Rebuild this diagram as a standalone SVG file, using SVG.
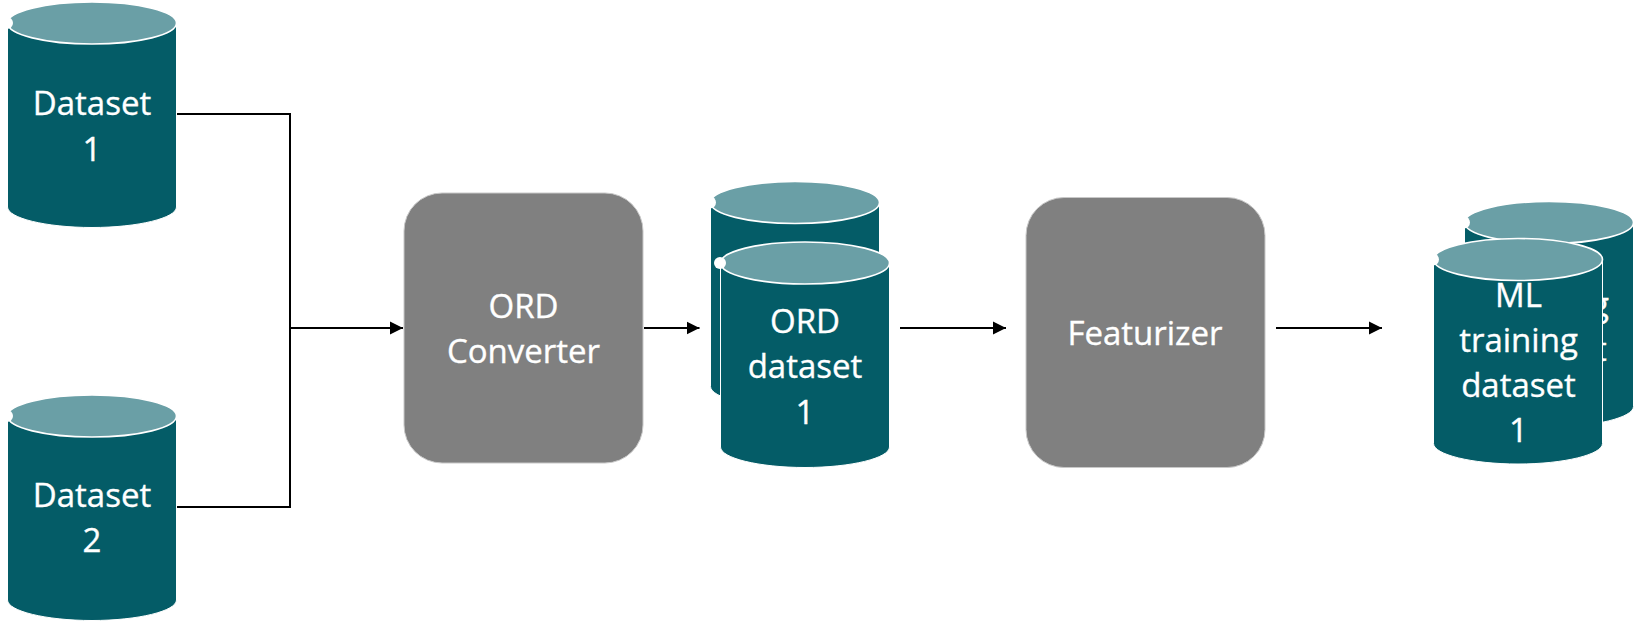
<svg xmlns="http://www.w3.org/2000/svg" width="1641" height="622" viewBox="0 0 1641 622">
<style>
.body{fill:#045c67;stroke:#fff;stroke-width:1}
.top{fill:#6a9fa6;stroke:#fff;stroke-width:1.6}
.dot{fill:#fff}
.box{fill:#808080;stroke:#c8c8c8;stroke-width:1}
text{font-family:"Open Sans","Noto Sans",sans-serif;font-size:33px;fill:#fff;stroke:#fff;stroke-width:.35;text-anchor:middle}
.wire{fill:none;stroke:#000;stroke-width:2}
</style>
<defs>
<marker id="arrow" markerUnits="userSpaceOnUse" markerWidth="14" markerHeight="14" refX="13" refY="7" orient="auto"><path d="M0 0.5L13 7L0 13.5Z" fill="#000"/></marker>
<g id="cyl">
<path class="body" d="M-.5 0V184C-.5 195 37.6 204.500 84 204.500S168.500 195 168.500 184V0Z"/>
<ellipse class="top" cx="84" cy="0" rx="84.500" ry="21"/>
<circle class="dot" cx="-1" cy="0" r="6"/>
</g>
</defs>
<rect width="1641" height="622" fill="#fff"/>
<g id="connectors">
<path class="wire" d="M176 114H290V507H176"/>
<path class="wire" d="M290 328H403" marker-end="url(#arrow)"/>
<path class="wire" d="M644 328H699.500" marker-end="url(#arrow)"/>
<path class="wire" d="M900 328H1006" marker-end="url(#arrow)"/>
<path class="wire" d="M1276 328H1382" marker-end="url(#arrow)"/>
</g>
<g id="dataset-1"><use href="#cyl" x="8" y="23"/><text x="92" y="115">Dataset</text><text x="92" y="161">1</text></g>
<g id="dataset-2"><use href="#cyl" x="8" y="416"/><text x="92" y="507">Dataset</text><text x="92" y="552">2</text></g>
<g id="ord-converter"><rect class="box" x="404" y="193" width="239" height="270" rx="38"/><text x="523.500" y="318">ORD</text><text x="523.500" y="363">Converter</text></g>
<g id="ord-dataset-back"><use href="#cyl" x="711" y="202.500"/></g>
<g id="ord-dataset-1"><use href="#cyl" x="721" y="263"/><text x="805" y="333">ORD</text><text x="805" y="378">dataset</text><text x="805" y="424">1</text></g>
<g id="featurizer"><rect class="box" x="1026" y="197.500" width="239" height="270" rx="38"/><text x="1145" y="345">Featurizer</text></g>
<g id="ml-dataset-back"><use href="#cyl" x="1465" y="222.500"/><text x="1549.500" y="316">training</text><text x="1549.500" y="361">dataset</text></g>
<g id="ml-dataset-1"><use href="#cyl" x="1434" y="259.500"/><text x="1518.500" y="307">ML</text><text x="1518.500" y="352">training</text><text x="1518.500" y="397">dataset</text><text x="1518.500" y="442">1</text></g>
</svg>
